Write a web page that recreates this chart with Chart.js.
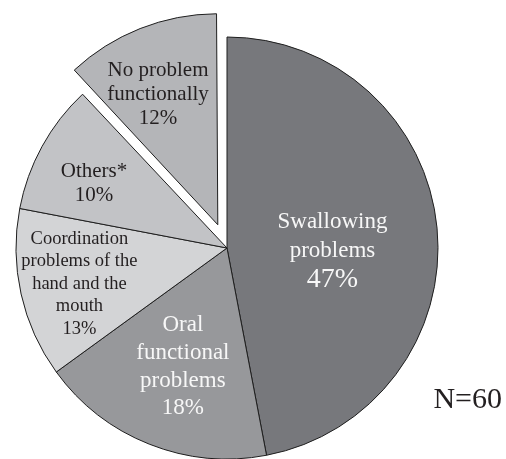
<!DOCTYPE html>
<html>
<head>
<meta charset="utf-8">
<script src="https://cdn.jsdelivr.net/npm/chart.js@4.4.1/dist/chart.umd.min.js"></script>
<style>
  html, body { margin: 0; padding: 0; background: #ffffff; }
  #wrap { position: relative; width: 506px; height: 459px; }
  canvas { display: block; }
</style>
</head>
<body>
<div id="wrap"><canvas id="pie" width="506" height="459"></canvas></div>
<script>
// Categories, shares (%) and slice styling
const categories = [
  'Swallowing problems',
  'Oral functional problems',
  'Coordination problems of the hand and the mouth',
  'Others*',
  'No problem functionally'
];
const shares = [47, 18, 13, 10, 12];
const sliceColors = ['#77787c', '#97989b', '#d3d4d6', '#c2c3c6', '#b4b5b8'];
// Chart.js moves an arc by offset/4 pixels, so 100 pulls the last slice out 25px
const sliceOffsets = [0, 0, 0, 0, 100];
const pieRadius = 211;

// Text drawn inside each slice (line text, font size)
const sliceLabelLines = [
  [['Swallowing', 23], ['problems', 23], ['47%', 28]],
  [['Oral', 23], ['functional', 23], ['problems', 23], ['18%', 23]],
  [['Coordination', 18.5], ['problems of the', 18.5], ['hand and the', 18.5], ['mouth', 18.5], ['13%', 18.5]],
  [['Others*', 21], ['10%', 21]],
  [['No problem', 21], ['functionally', 21], ['12%', 21]]
];
const labelLineGap = [28.5, 27.7, 22.4, 23.5, 24];
const labelColors = ['#f7f7f7', '#f7f7f7', '#231f20', '#231f20', '#231f20'];
// label anchor: fraction of radius, and angular nudge (deg) from slice middle
const labelRadiusFrac = [0.50, 0.60, 0.72, 0.70, 0.68];
const labelAngleNudge = [7, -1.2, -1.1, -3, -3];

const sampleNote = 'N=60';
const FONT = '"Liberation Serif", "Times New Roman", serif';

// Chart.js also grows an offset arc by offset * (1 - sin(angle)); take that
// back off so the pulled-out slice keeps the pie's radius.
const keepRadius = {
  id: 'keepRadius',
  beforeDatasetsDraw(chart) {
    chart.getDatasetMeta(0).data.forEach((arc) => {
      const off = (arc.options.offset || 0) / 4;
      const fix = 1 - Math.sin(Math.min(Math.PI, arc.circumference || 0));
      arc.outerRadius = pieRadius - off * fix;
    });
  }
};

const sliceLabels = {
  id: 'sliceLabels',
  afterDatasetsDraw(chart) {
    const ctx = chart.ctx;
    const arcs = chart.getDatasetMeta(0).data;
    ctx.save();
    ctx.textAlign = 'center';
    ctx.textBaseline = 'middle';
    arcs.forEach((arc, i) => {
      const p = arc.getProps(['x', 'y', 'startAngle', 'endAngle'], true);
      const mid = (p.startAngle + p.endAngle) / 2;
      const off = (arc.options.offset || 0) / 4;
      const a = mid + labelAngleNudge[i] * Math.PI / 180;
      const r = pieRadius * labelRadiusFrac[i];
      const cx = p.x + Math.cos(mid) * off + Math.cos(a) * r;
      const cy = p.y + Math.sin(mid) * off + Math.sin(a) * r;
      const lines = sliceLabelLines[i];
      const gap = labelLineGap[i];
      const top = cy - gap * (lines.length - 1) / 2;
      ctx.fillStyle = labelColors[i];
      lines.forEach(([txt, size], k) => {
        ctx.font = size + 'px ' + FONT;
        ctx.fillText(txt, cx, top + k * gap);
      });
    });
    // sample size note
    ctx.fillStyle = '#231f20';
    ctx.font = '30px ' + FONT;
    ctx.textAlign = 'right';
    ctx.fillText(sampleNote, 502, 400);
    ctx.restore();
  }
};

function drawPie() {
  new Chart(document.getElementById('pie'), {
    type: 'pie',
    data: {
      labels: categories,
      datasets: [{
        data: shares,
        backgroundColor: sliceColors,
        borderColor: '#1e1e1e',
        borderWidth: 1,
        offset: sliceOffsets,
        radius: pieRadius,
        clip: false
      }]
    },
    options: {
      responsive: false,
      animation: false,
      layout: { padding: { left: 0, right: 52, top: 37, bottom: 0 } },
      plugins: {
        legend: { display: false },
        tooltip: { enabled: false }
      }
    },
    plugins: [keepRadius, sliceLabels]
  });
}

Promise.all([
  document.fonts.load('21px "Liberation Serif"'),
  document.fonts.load('30px "Liberation Serif"')
]).then(drawPie, drawPie);
</script>
</body>
</html>
